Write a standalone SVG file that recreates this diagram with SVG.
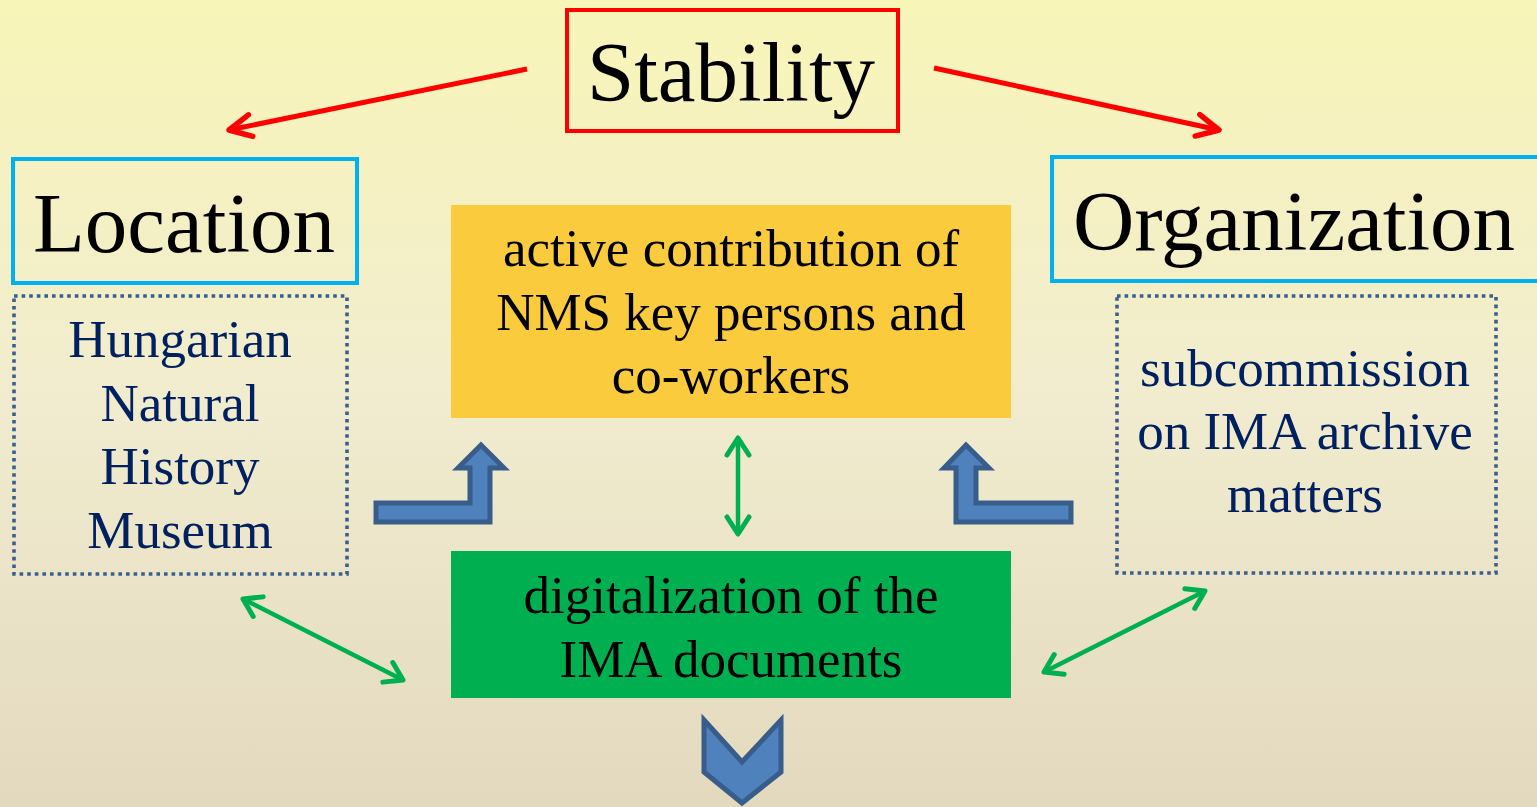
<svg xmlns="http://www.w3.org/2000/svg" width="1537" height="807" viewBox="0 0 1537 807">
<style>
.t{font-family:"Liberation Serif","Times New Roman",serif;text-anchor:middle}
.big{font-size:85px;fill:#000}
.mid{font-size:53px}
.navy{fill:#002060}
.blk{fill:#000}
.dot{fill:none;stroke:#3A5F8F;stroke-width:3.6;stroke-dasharray:3.6 4}
.red{stroke:#FF0000;stroke-width:5;fill:none}
.grn{stroke:#00B050;stroke-width:4.5;fill:none}
.blue{fill:#4F81BD;stroke:#385D8A;stroke-width:5;stroke-linejoin:miter}
</style>
<defs>
<linearGradient id="bg" x1="0" y1="0" x2="0" y2="1">
<stop offset="0" stop-color="#F8F5B8"/>
<stop offset="0.5" stop-color="#F1ECCF"/>
<stop offset="1" stop-color="#E3D9BE"/>
</linearGradient>
<marker id="ra" markerUnits="userSpaceOnUse" markerWidth="50" markerHeight="50" viewBox="-35 -25 50 50" refX="0" refY="0" orient="auto-start-reverse">
<path d="M-22,-11 L0,0 L-22,11" fill="none" stroke="#FF0000" stroke-width="5.5" stroke-linecap="round" stroke-linejoin="round"/>
</marker>
<marker id="ga" markerUnits="userSpaceOnUse" markerWidth="40" markerHeight="40" viewBox="-30 -20 40 40" refX="0" refY="0" orient="auto-start-reverse">
<path d="M-17,-11 L0,0 L-17,11" fill="none" stroke="#00B050" stroke-width="5" stroke-linecap="round" stroke-linejoin="round"/>
</marker>
</defs>
<rect x="0" y="0" width="1537" height="807" fill="url(#bg)"/>

<g id="connectors">
<line class="red" x1="527" y1="69" x2="229" y2="130" marker-end="url(#ra)"/>
<line class="red" x1="934" y1="68" x2="1219" y2="130" marker-end="url(#ra)"/>
<line class="grn" x1="738" y1="438" x2="738" y2="534" marker-start="url(#ga)" marker-end="url(#ga)"/>
<line class="grn" x1="243" y1="599" x2="403" y2="680" marker-start="url(#ga)" marker-end="url(#ga)"/>
<line class="grn" x1="1205" y1="591" x2="1044" y2="672" marker-start="url(#ga)" marker-end="url(#ga)"/>
<polygon class="blue" points="376,503 470,503 470,468 458,468 481,445 504,468 490,468 490,522 376,522"/>
<polygon class="blue" points="1071,503 976,503 976,468 989,468 966,445 944,468 956,468 956,522 1071,522"/>
<polygon class="blue" points="704,720 742,762 781,720 781,772 742,803 704,772"/>
</g>

<g id="stability">
<rect x="567" y="10" width="331" height="121" fill="none" stroke="#FF0000" stroke-width="4"/>
<text class="t big" x="731" y="101">Stability</text>
</g>

<g id="location">
<rect x="13" y="159" width="344" height="124" fill="none" stroke="#00B0F0" stroke-width="4"/>
<text class="t big" x="184" y="252">Location</text>
</g>

<g id="organization">
<rect x="1052" y="157" width="495" height="124" fill="none" stroke="#00B0F0" stroke-width="4"/>
<text class="t big" x="1294" y="250">Organization</text>
</g>

<g id="museum">
<rect class="dot" x="14" y="296" width="333" height="278"/>
<text class="t mid navy" x="180" y="357">Hungarian</text>
<text class="t mid navy" x="180" y="421">Natural</text>
<text class="t mid navy" x="180" y="484">History</text>
<text class="t mid navy" x="180" y="548">Museum</text>
</g>

<g id="subcommission">
<rect class="dot" x="1117" y="296" width="379" height="277"/>
<text class="t mid navy" x="1305" y="386">subcommission</text>
<text class="t mid navy" x="1305" y="449">on IMA archive</text>
<text class="t mid navy" x="1305" y="512">matters</text>
</g>

<g id="contribution">
<rect x="451" y="205" width="560" height="213" fill="#FACB3C"/>
<text class="t mid blk" x="731" y="266">active contribution of</text>
<text class="t mid blk" x="731" y="330">NMS key persons and</text>
<text class="t mid blk" x="731" y="393">co-workers</text>
</g>

<g id="digitalization">
<rect x="451" y="551" width="560" height="147" fill="#00B050"/>
<text class="t mid blk" x="731" y="613">digitalization of the</text>
<text class="t mid blk" x="731" y="677">IMA documents</text>
</g>
</svg>
